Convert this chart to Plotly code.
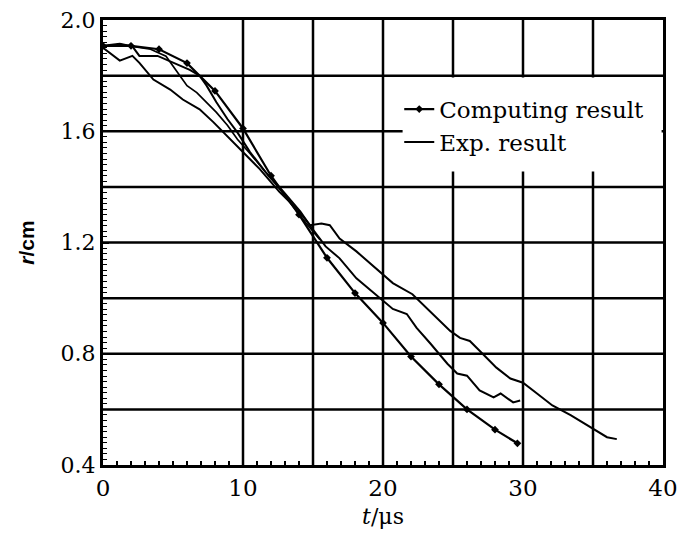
import plotly.graph_objects as go

# ---- data (t in microseconds, r in cm) ----
comp_t = [0, 2, 4, 6, 8, 10, 12, 14, 16, 18, 20, 22, 24, 26, 28, 29.6]
comp_r = [1.907, 1.907, 1.895, 1.845, 1.745, 1.61, 1.44, 1.30, 1.145, 1.018, 0.911, 0.79, 0.69, 0.60, 0.527, 0.478]

exp1_t = [0, 0.7, 1.2, 2.1, 2.6, 3.6, 4.8, 5.7, 6.9, 7.9, 8.6, 9.3, 10.0, 11.2, 12.6, 13.9, 14.8,
          15.6, 16.2, 16.9, 18.1, 19.1, 20.0, 20.7, 22.1, 23.1, 24.8, 25.5, 26.2, 26.9, 28.1, 29.1,
          30.0, 31.0, 32.1, 33.4, 34.8, 36.0, 36.7]
exp1_r = [1.90, 1.875, 1.854, 1.871, 1.846, 1.786, 1.75, 1.714, 1.679, 1.632, 1.596, 1.561, 1.525,
          1.464, 1.382, 1.318, 1.262, 1.268, 1.262, 1.214, 1.168, 1.125, 1.086, 1.054, 1.014, 0.964,
          0.882, 0.857, 0.846, 0.811, 0.75, 0.711, 0.696, 0.657, 0.614, 0.579, 0.536, 0.50, 0.493]

exp2_t = [0, 1.2, 2.1, 2.6, 3.9, 5.0, 6.2, 6.9, 7.4, 8.1, 8.9, 9.6, 10.5, 11.6, 12.9, 14.1, 15.0,
          15.9, 16.9, 18.1, 19.8, 20.7, 21.7, 22.4, 23.4, 24.6, 25.3, 26.0, 26.9, 27.9, 28.4, 29.3, 29.8]
exp2_r = [1.907, 1.915, 1.905, 1.871, 1.871, 1.846, 1.821, 1.80, 1.764, 1.704, 1.643, 1.596, 1.525,
          1.454, 1.382, 1.311, 1.246, 1.186, 1.143, 1.071, 1.0, 0.961, 0.943, 0.893, 0.836, 0.764,
          0.729, 0.721, 0.668, 0.643, 0.657, 0.625, 0.632]

exp3_t = [0, 1.2, 2.1, 3.4, 4.5, 5.5, 6.0, 6.7, 7.4, 8.1, 8.9, 9.6, 10.5, 11.5, 12.5, 13.5, 14.5, 15.5]
exp3_r = [1.905, 1.912, 1.905, 1.895, 1.87, 1.80, 1.764, 1.739, 1.704, 1.668, 1.621, 1.571, 1.52,
          1.46, 1.40, 1.335, 1.27, 1.21]

x_ticks = [0, 10, 20, 30, 40]
y_ticks = [0.4, 0.8, 1.2, 1.6, 2.0]
x_grid = [10, 15, 20, 25, 30, 35]
y_grid = [0.6, 0.8, 1.0, 1.2, 1.4, 1.6, 1.8]
legend_box = dict(t0=21.4, t1=39.9, r0=1.455, r1=1.793)

SERIF = "DejaVu Serif"

fig = go.Figure()
fig.add_trace(go.Scatter(x=comp_t, y=comp_r, mode="lines+markers", name="Computing result",
                         line=dict(color="black", width=2.2),
                         marker=dict(symbol="diamond", size=6, color="black")))
fig.add_trace(go.Scatter(x=exp1_t, y=exp1_r, mode="lines", name="Exp. result", legendgroup="exp",
                         line=dict(color="black", width=2)))
fig.add_trace(go.Scatter(x=exp2_t, y=exp2_r, mode="lines", name="Exp. result", legendgroup="exp",
                         showlegend=False, line=dict(color="black", width=2)))
fig.add_trace(go.Scatter(x=exp3_t, y=exp3_r, mode="lines", name="Exp. result", legendgroup="exp",
                         showlegend=False, line=dict(color="black", width=1.7)))

shapes = []
for gx in x_grid:
    shapes.append(dict(type="line", xref="x", yref="y", x0=gx, x1=gx, y0=0.4, y1=2.0,
                       line=dict(color="black", width=2.5), layer="below"))
for gy in y_grid:
    shapes.append(dict(type="line", xref="x", yref="y", x0=0, x1=40, y0=gy, y1=gy,
                       line=dict(color="black", width=2.5), layer="below"))
shapes.append(dict(type="rect", xref="x", yref="y", x0=legend_box["t0"], x1=legend_box["t1"],
                   y0=legend_box["r0"], y1=legend_box["r1"], fillcolor="white",
                   line=dict(width=0), layer="below"))

fig.update_layout(
    width=693, height=535,
    margin=dict(l=95, r=38, t=12, b=78, autoexpand=False),
    paper_bgcolor="white", plot_bgcolor="white",
    shapes=shapes,
    showlegend=True,
    legend=dict(x=0.529, y=0.848, xanchor="left", yanchor="top", bgcolor="rgba(0,0,0,0)",
                font=dict(family=SERIF, size=23, color="black"), tracegroupgap=0),
    font=dict(family=SERIF, color="black"),
)
fig.update_xaxes(range=[0, 40], tickvals=x_ticks, showgrid=False, zeroline=False, automargin=False,
                 showline=True, linecolor="black", linewidth=3, mirror=True,
                 ticks="inside", ticklen=6, tickwidth=2, tickcolor="black",
                 ticklabeloverflow="allow",
                 minor=dict(dtick=1, ticks="inside", ticklen=4, tickwidth=1.5, tickcolor="black"),
                 tickfont=dict(family=SERIF, size=23, color="black"),
                 title=dict(text="<i>t</i>/μs", font=dict(family=SERIF, size=22, color="black"),
                            standoff=10))
fig.update_yaxes(range=[0.4, 2.0], tickvals=y_ticks, tickformat=".1f", showgrid=False, zeroline=False,
                 automargin=False, ticklabeloverflow="allow",
                 showline=True, linecolor="black", linewidth=3, mirror=True,
                 ticks="inside", ticklen=6, tickwidth=2, tickcolor="black",
                 minor=dict(dtick=0.02, ticks="inside", ticklen=4, tickwidth=1.2, tickcolor="black"),
                 tickfont=dict(family=SERIF, size=22, color="black"),
                 title=dict(text="<b><i>r</i>/cm</b>", font=dict(family="Liberation Sans", size=21, color="black"),
                            standoff=21))

fig.write_html("out.html")
